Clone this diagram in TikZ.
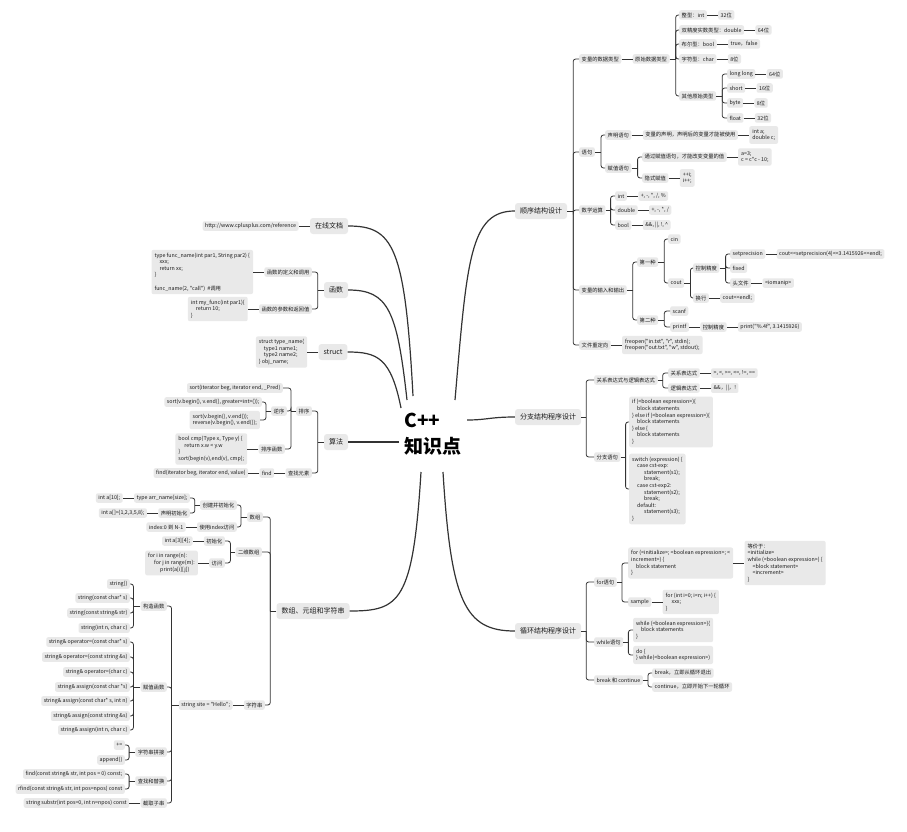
\documentclass[tikz,border=0pt]{standalone}
\usepackage{fontspec}
\newfontfamily\cjkf{Noto Sans CJK SC}
\usetikzlibrary{positioning}
\definecolor{boxg}{HTML}{E9E9E9}
\definecolor{linec}{HTML}{333333}
\definecolor{txtc}{HTML}{1A1A1A}
\tikzset{
  bx/.style={fill=boxg, rounded corners=2pt, inner xsep=2.5pt, inner ysep=2pt, minimum height=9.5pt, text=txtc, font=\cjkf\fontsize{5.3}{6.6}\selectfont},
  code/.style={bx, align=left, inner sep=3pt},
  mainbx/.style={fill=boxg, rounded corners=3pt, inner xsep=5pt, inner ysep=4pt, minimum height=16pt, text=txtc, font=\cjkf\fontsize{7}{8}\selectfont},
  conn/.style={draw=linec, line width=0.8pt},
  bigc/.style={draw=linec, line width=1.2pt},
}
\newcommand{\treeR}[3]{%
  \draw[conn] (#1.east) -- ++(#2,0);
  \foreach \ch in {#3}{\draw[conn,rounded corners=2.5pt] (#1.east) ++(#2,0) |- (\ch.west);}}
\newcommand{\treeL}[3]{%
  \draw[conn] (#1.west) -- ++(-#2,0);
  \foreach \ch in {#3}{\draw[conn,rounded corners=2.5pt] (#1.west) ++(-#2,0) |- (\ch.east);}}
\newcommand{\chainR}[2]{\draw[conn] (#1.east) -- (#2.west);}
\newcommand{\chainL}[2]{\draw[conn] (#1.west) -- (#2.east);}
\begin{document}
\begin{tikzpicture}[x=1pt,y=-1pt]
\useasboundingbox (0,0) rectangle (907,832);
\fill[white] (0,0) rectangle (907,832);

% root
\node[font=\cjkf\fontsize{19}{26}\selectfont\bfseries, align=left, inner sep=0pt, text=black] (root) at (433,434) {C++\\知识点};

% ===== Branch 1 =====
\node[mainbx] (seq) at (541,211) {顺序结构设计};
\node[bx,anchor=west] (a1) at (579,59) {变量的数据类型};
\node[bx,right=11pt of a1] (a11) {原始数据类型};
\node[bx,anchor=west] (t1) at (679,15) {整型：int};
\node[bx,right=11pt of t1] (t1v) {32位};
\node[bx,anchor=west] (t2) at (679,30) {双精度实数类型：double};
\node[bx,right=11pt of t2] (t2v) {64位};
\node[bx,anchor=west] (t3) at (679,44) {布尔型：bool};
\node[bx,right=11pt of t3] (t3v) {true，false};
\node[bx,anchor=west] (t4) at (679,59) {字符型：char};
\node[bx,right=11pt of t4] (t4v) {8位};
\node[bx,anchor=west] (t5) at (679,96) {其他原始类型};
\node[bx,anchor=west] (o1) at (727,74) {long long};
\node[bx,right=11pt of o1] (o1v) {64位};
\node[bx,anchor=west] (o2) at (727,88) {short};
\node[bx,right=11pt of o2] (o2v) {16位};
\node[bx,anchor=west] (o3) at (727,103) {byte};
\node[bx,right=11pt of o3] (o3v) {8位};
\node[bx,anchor=west] (o4) at (727,118) {float};
\node[bx,right=11pt of o4] (o4v) {32位};

\node[bx,anchor=west] (a2) at (579,152) {语句};
\node[bx,anchor=west] (d1) at (605,135) {声明语句};
\node[bx,right=11pt of d1] (d1a) {变量的声明，声明后的变量才能被使用};
\node[code,right=11pt of d1a] (d1b) {int a;\\double c;};
\node[bx,anchor=west] (d2) at (605,168) {赋值语句};
\node[bx,anchor=west] (d2a) at (642,157) {通过赋值语句，才能改变变量的值};
\node[code,right=11pt of d2a] (d2b) {a=3;\\c = c*c - 10;};
\node[bx,anchor=west] (d2c) at (642,178) {隐式赋值};
\node[code,right=11pt of d2c] (d2d) {++i;\\i++;};

\node[bx,anchor=west] (a3) at (579,210) {数学运算};
\node[bx,anchor=west] (m1) at (615,196) {int};
\node[bx,right=11pt of m1] (m1v) {+, -, *, /, \%};
\node[bx,anchor=west] (m2) at (615,210) {double};
\node[bx,right=11pt of m2] (m2v) {+, -, *, /};
\node[bx,anchor=west] (m3) at (615,225) {bool};
\node[bx,right=11pt of m3] (m3v) {\&\&, ||, !, \textasciicircum};

\node[bx,anchor=west] (a4) at (579,290) {变量的输入和输出};
\node[bx,anchor=west] (f1) at (637,262) {第一种};
\node[bx,anchor=west] (cin) at (668,239) {cin};
\node[bx,anchor=west] (cout) at (668,283) {cout};
\node[bx,anchor=west] (kz) at (693,268) {控制精度};
\node[bx,anchor=west] (sp) at (730,254) {setprecision};
\node[bx,right=11pt of sp] (spv) {cout<<setprecision(4)<<3.1415926<<endl;};
\node[bx,anchor=west] (fx) at (730,268) {fixed};
\node[bx,anchor=west] (hf) at (730,283) {头文件};
\node[bx,right=11pt of hf] (hfv) {<iomanip>};
\node[bx,anchor=west] (hh) at (693,298) {换行};
\node[bx,right=11pt of hh] (hhv) {cout<<endl;};
\node[bx,anchor=west] (f2) at (637,320) {第二种};
\node[bx,anchor=west] (scanf) at (670,311) {scanf};
\node[bx,anchor=west] (printf) at (670,327) {printf};
\node[bx,right=11pt of printf] (kz2) {控制精度};
\node[bx,right=11pt of kz2] (kz2v) {print("\%.4f", 3.1415926)};

\node[bx,anchor=west] (a5) at (579,345) {文件重定向};
\node[code,right=11pt of a5] (fre) {freopen("in.txt", "r", stdin);\\freopen("out.txt", "w", stdout);};

\treeR{seq}{6}{a1,a2,a3,a4,a5}
\chainR{a1}{a11}
\treeR{a11}{6}{t1,t2,t3,t4,t5}
\chainR{t1}{t1v}\chainR{t2}{t2v}\chainR{t3}{t3v}\chainR{t4}{t4v}
\treeR{t5}{6}{o1,o2,o3,o4}
\chainR{o1}{o1v}\chainR{o2}{o2v}\chainR{o3}{o3v}\chainR{o4}{o4v}
\treeR{a2}{6}{d1,d2}
\chainR{d1}{d1a}\chainR{d1a}{d1b}
\treeR{d2}{6}{d2a,d2c}
\chainR{d2a}{d2b}\chainR{d2c}{d2d}
\treeR{a3}{5}{m1,m2,m3}
\chainR{m1}{m1v}\chainR{m2}{m2v}\chainR{m3}{m3v}
\treeR{a4}{6}{f1,f2}
\treeR{f1}{6}{cin,cout}
\treeR{cout}{6}{kz,hh}
\treeR{kz}{6}{sp,fx,hf}
\chainR{sp}{spv}\chainR{hf}{hfv}\chainR{hh}{hhv}
\treeR{f2}{6}{scanf,printf}
\chainR{printf}{kz2}\chainR{kz2}{kz2v}
\chainR{a5}{fre}

% ===== Branch 2 =====
\node[mainbx] (br) at (548,417) {分支结构程序设计};
\node[bx,anchor=west] (b1) at (594,380) {关系表达式与逻辑表达式};
\node[bx,anchor=west] (b11) at (668,373) {关系表达式};
\node[bx,right=11pt of b11] (b11v) {>, <, >=, <=, !=, ==};
\node[bx,anchor=west] (b12) at (668,388) {逻辑表达式};
\node[bx,right=11pt of b12] (b12v) {\&\&，||，!};
\node[bx,anchor=west] (b2) at (594,457) {分支语句};
\node[code,anchor=west] (ifb) at (629,422) {if (<boolean expression>)\{\\\hspace*{5pt}block statements\\\} else if (<boolean expression>)\{\\\hspace*{5pt}block statements\\\} else \{\\\hspace*{5pt}block statements\\\}};
\node[code,anchor=west] (swb) at (629,489) {switch (expression) \{\\\hspace*{5pt}case cst-exp:\\\hspace*{12pt}statement(s1);\\\hspace*{12pt}break;\\\hspace*{5pt}case cst-exp2:\\\hspace*{12pt}statement(s2);\\\hspace*{12pt}break;\\\hspace*{5pt}default:\\\hspace*{12pt}statement(s3);\\\}};
\treeR{br}{5}{b1,b2}
\treeR{b1}{5}{b11,b12}
\chainR{b11}{b11v}\chainR{b12}{b12v}
\treeR{b2}{5}{ifb,swb}

% ===== Branch 3 =====
\node[mainbx] (lp) at (548,631) {循环结构程序设计};
\node[bx,anchor=west] (c1) at (594,582) {for语句};
\node[code,anchor=west] (forb) at (628,563) {for (<initialize>; <boolean expression>; <\\increment>) \{\\\hspace*{5pt}block statement\\\}};
\node[code,right=11pt of forb] (eqb) {等价于：\\<initialize>\\while (<boolean expression>) \{\\\hspace*{5pt}<block statement>\\\hspace*{5pt}<increment>\\\}};
\node[bx,anchor=west] (smp) at (628,602) {sample};
\node[code,right=11pt of smp] (smpc) {for (int i=0; i<n; i++) \{\\\hspace*{6pt}xxx;\\\}};
\node[bx,anchor=west] (c2) at (594,642) {while语句};
\node[code,anchor=west] (wb) at (633,630) {while (<boolean expression>)\{\\\hspace*{5pt}block statements\\\}};
\node[code,anchor=west] (dob) at (633,655) {do \{\\\} while(<boolean expression>)};
\node[bx,anchor=west] (c3) at (594,680) {break 和 continue};
\node[bx,anchor=west] (brk) at (652,673) {break，立即从循环退出};
\node[bx,anchor=west] (cnt) at (652,687) {continue，立即开始下一轮循环};
\treeR{lp}{5}{c1,c2,c3}
\treeR{c1}{5}{forb,smp}
\chainR{forb}{eqb}\chainR{smp}{smpc}
\treeR{c2}{5}{wb,dob}
\treeR{c3}{5}{brk,cnt}

% ===== Left: docs =====
\node[mainbx] (doc) at (329,226) {在线文档};
\node[bx,left=11pt of doc] (docv) {http://www.cplusplus.com/reference};
\chainL{doc}{docv}

% ===== Left: functions =====
\node[mainbx] (fn) at (336,290) {函数};
\node[bx,anchor=east] (fn1) at (312,272) {函数的定义和调用};
\node[code,left=11pt of fn1] (fn1c) {type func\_name(int par1, String par2) \{\\\hspace*{5pt}xxx;\\\hspace*{5pt}return xx;\\\}\\\mbox{}\\func\_name(2, "call")\ \ \#调用};
\node[bx,anchor=east] (fn2) at (312,309) {函数的参数和返回值};
\node[code,left=11pt of fn2] (fn2c) {int my\_func(int par1)\{\\\hspace*{5pt}return 10;\\\}};
\treeL{fn}{6}{fn1,fn2}
\chainL{fn1}{fn1c}\chainL{fn2}{fn2c}

% ===== Left: struct =====
\node[mainbx] (st) at (333,352) {struct};
\node[code,left=11pt of st] (stc) {struct type\_name\{\\\hspace*{5pt}type1 name1;\\\hspace*{5pt}type2 name2;\\\} obj\_name;};
\chainL{st}{stc}

% ===== Left: algorithms =====
\node[mainbx] (alg) at (336,442) {算法};
\node[bx,anchor=east] (px) at (312,411) {排序};
\node[bx,anchor=east] (cz) at (312,473) {查找元素};
\node[bx,anchor=east] (sortp) at (283,388) {sort(iterator beg, iterator end, \_Pred)};
\node[bx,anchor=east] (nx) at (287,411) {逆序};
\node[bx,anchor=east] (pxf) at (285,449) {排序函数};
\node[bx,anchor=east] (nx1) at (262,402) {sort(v.begin(), v.end(), greater<int>());};
\node[code,anchor=east] (nx2) at (260,420) {sort(v.begin(), v.end());\\reverse(v.begin(), v.end());};
\node[code,left=11pt of pxf] (pxfc) {bool cmp(Type x, Type y) \{\\\hspace*{6pt}return x.w < y.w\\\}\\sort(begin(v),end(v), cmp);};
\node[bx,left=11pt of cz] (fnd) {find};
\node[bx,left=11pt of fnd] (fndv) {find(iterator beg, iterator end, value)};
\treeL{alg}{6}{px,cz}
\treeL{px}{5}{sortp,nx,pxf}
\treeL{nx}{5}{nx1,nx2}
\chainL{pxf}{pxfc}\chainL{cz}{fnd}\chainL{fnd}{fndv}

% ===== Left: arrays & strings =====
\node[mainbx] (arr) at (313,611) {数组、元组和字符串};
\node[bx,anchor=east] (sz) at (263,517) {数组};
\node[bx,anchor=east] (sz1) at (237,505) {创建并初始化};
\node[bx,anchor=east] (sz11) at (190,498) {type arr\_name[size];};
\node[bx,left=11pt of sz11] (sz11v) {int a[10];};
\node[bx,anchor=east] (sz12) at (190,513) {声明初始化};
\node[bx,left=11pt of sz12] (sz12v) {int a[]=\{1,2,3,5,8\};};
\node[bx,anchor=east] (sz2) at (237,527) {使用index访问};
\node[bx,left=11pt of sz2] (sz2v) {index:0 到 N-1};
\node[bx,anchor=east] (ew) at (262,552) {二维数组};
\node[bx,anchor=east] (ew1) at (225,541) {初始化};
\node[bx,left=11pt of ew1] (ew1v) {int a[3][4];};
\node[bx,anchor=east] (ew2) at (225,563) {访问};
\node[code,left=11pt of ew2] (ew2v) {for i in range(n):\\\hspace*{6pt}for j in range(m):\\\hspace*{12pt}print(a[i][j])};
\node[bx,anchor=east] (zfc) at (265,705) {字符串};
\node[bx,left=11pt of zfc] (zs) {string site = "Hello";};
\node[bx,anchor=east] (gz) at (167,606) {构造函数};
\node[bx,anchor=east] (g1) at (130,584) {string()};
\node[bx,anchor=east] (g2) at (130,598) {string(const char* s)};
\node[bx,anchor=east] (g3) at (130,613) {string(const string\& str)};
\node[bx,anchor=east] (g4) at (130,628) {string(int n, char c)};
\node[bx,anchor=east] (fz) at (167,687) {赋值函数};
\node[bx,anchor=east] (h1) at (130,642) {string\& operator=(const char* s)};
\node[bx,anchor=east] (h2) at (130,657) {string\& operator=(const string \&s)};
\node[bx,anchor=east] (h3) at (130,672) {string\& operator=(char c)};
\node[bx,anchor=east] (h4) at (130,687) {string\& assign(const char *s)};
\node[bx,anchor=east] (h5) at (130,701) {string\& assign(const char* s, int n)};
\node[bx,anchor=east] (h6) at (130,716) {string\& assign(const string \&s)};
\node[bx,anchor=east] (h7) at (130,730) {string\& assign(int n, char c)};
\node[bx,anchor=east] (pj) at (167,752) {字符串拼接};
\node[bx,anchor=east] (p1) at (125,745) {+=};
\node[bx,anchor=east] (p2) at (125,760) {append()};
\node[bx,anchor=east] (cth) at (167,781) {查找和替换};
\node[bx,anchor=east] (q1) at (125,774) {find(const string\& str, int pos = 0) const;};
\node[bx,anchor=east] (q2) at (125,789) {rfind(const string\& str, int pos=npos) const};
\node[bx,anchor=east] (jq) at (167,803) {截取子串};
\node[bx,left=11pt of jq] (jqv) {string substr(int pos=0, int n=npos) const};

\treeL{arr}{6}{sz,ew,zfc}
\treeL{sz}{6}{sz1,sz2}
\treeL{sz1}{5}{sz11,sz12}
\chainL{sz11}{sz11v}\chainL{sz12}{sz12v}\chainL{sz2}{sz2v}
\treeL{ew}{5}{ew1,ew2}
\chainL{ew1}{ew1v}\chainL{ew2}{ew2v}
\chainL{zfc}{zs}
\treeL{zs}{7}{gz,fz,pj,cth,jq}
\treeL{gz}{7}{g1,g2,g3,g4}
\treeL{fz}{7}{h1,h2,h3,h4,h5,h6,h7}
\treeL{pj}{6}{p1,p2}
\treeL{cth}{6}{q1,q2}
\chainL{jq}{jqv}

% ===== main curves =====
\draw[bigc] ([shift={(22,-34)}]root.center) .. controls +(12,-140) and +(-45,0) .. (seq.west);
\draw[bigc] ([shift={(34,-14)}]root.center) .. controls +(20,0) and +(-25,0) .. (br.west);
\draw[bigc] ([shift={(10,38)}]root.center) .. controls +(8,130) and +(-50,0) .. (lp.west);
\draw[bigc] ([shift={(-20,-38)}]root.center) .. controls +(-8,-150) and +(45,0) .. (doc.east);
\draw[bigc] ([shift={(-26,-34)}]root.center) .. controls +(-10,-90) and +(40,0) .. (fn.east);
\draw[bigc] ([shift={(-32,-26)}]root.center) .. controls +(-10,-50) and +(30,0) .. (st.east);
\draw[bigc] ([shift={(-34,8)}]root.center) .. controls +(-25,0) and +(25,0) .. (alg.east);
\draw[bigc] ([shift={(-12,38)}]root.center) .. controls +(-8,130) and +(50,0) .. (arr.east);
\end{tikzpicture}
\end{document}
